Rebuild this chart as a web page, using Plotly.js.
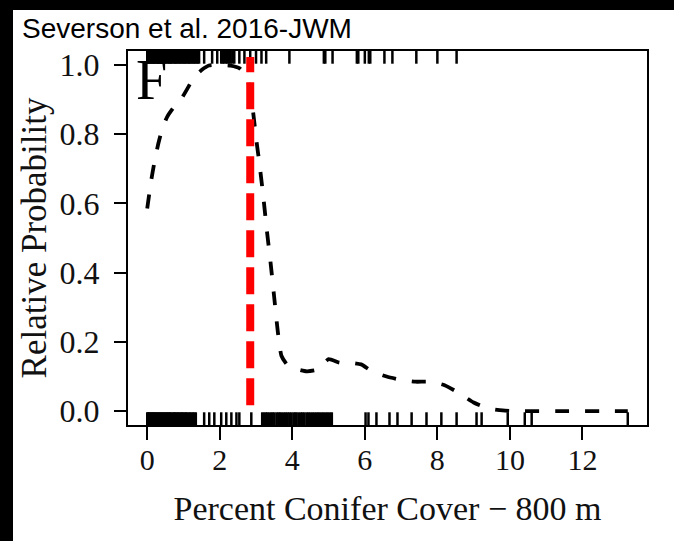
<!DOCTYPE html>
<html>
<head>
<meta charset="utf-8">
<script src="https://cdn.plot.ly/plotly-3.0.1.min.js"></script>
<style>
  html, body { margin:0; padding:0; background:#fff; width:674px; height:541px; overflow:hidden; }
  #chart { position:absolute; left:13px; top:10px; width:661px; height:531px; background:#fff; }
  #barTop { position:absolute; left:0; top:0; width:674px; height:10px; background:#000; }
  #barLeft { position:absolute; left:0; top:0; width:13px; height:541px; background:#000; }
</style>
</head>
<body>
<div id="chart"></div>
<div id="barTop"></div>
<div id="barLeft"></div>
<script>
// Fitted relative probability curve (percent conifer cover, 800 m)
const curveX = [0, 0.1, 0.2, 0.3, 0.4, 0.55, 0.75, 0.9, 1.1, 1.3, 1.5, 1.7, 2.0, 2.3, 2.55, 2.75, 2.9, 3.0, 3.1, 3.2, 3.3, 3.4, 3.5, 3.6, 3.7, 3.85, 4.0, 4.4, 4.7, 5.0, 5.3, 5.6, 5.9, 6.2, 6.6, 7.0, 7.4, 7.8, 8.2, 8.6, 9.0, 9.4, 9.8, 10.2, 10.8, 11.4, 12.0, 12.6, 13.25];
const curveY = [0.585, 0.66, 0.72, 0.77, 0.81, 0.85, 0.88, 0.895, 0.93, 0.965, 0.985, 0.998, 1.0, 0.998, 0.99, 0.965, 0.88, 0.79, 0.71, 0.62, 0.52, 0.43, 0.33, 0.23, 0.16, 0.135, 0.125, 0.115, 0.12, 0.15, 0.14, 0.14, 0.135, 0.115, 0.1, 0.09, 0.085, 0.085, 0.075, 0.052, 0.025, 0.008, 0.002, 0.0, 0.0, 0.0, 0.0, 0.0, 0.0];

// Observed locations: used sites (rug at top) and available sites (rug at bottom)
const usedX = [0.00, 0.03, 0.05, 0.08, 0.11, 0.14, 0.17, 0.19, 0.22, 0.26, 0.29, 0.31, 0.35, 0.38, 0.41, 0.44, 0.47, 0.50, 0.53, 0.57, 0.60, 0.63, 0.66, 0.69, 0.73, 0.76, 0.79, 0.82, 0.86, 0.89, 0.92, 0.95, 0.99, 1.02, 1.05, 1.08, 1.12, 1.15, 1.18, 1.22, 1.25, 1.29, 1.32, 1.36, 1.39, 1.43,
  1.57, 1.79, 1.93, 2.04, 2.08, 2.12, 2.17, 2.21, 2.26, 2.30, 2.35, 2.40, 2.54, 2.68, 2.84, 3.00, 3.15, 3.28, 3.92, 4.87, 4.91, 5.11, 5.78, 5.82, 6.00, 6.11, 6.15, 6.54, 6.76, 7.42, 8.00, 8.53];
const availX = [0.00, 0.02, 0.05, 0.07, 0.10, 0.13, 0.16, 0.18, 0.21, 0.24, 0.27, 0.30, 0.33, 0.36, 0.39, 0.42, 0.45, 0.48, 0.51, 0.54, 0.57, 0.60, 0.63, 0.66, 0.70, 0.73, 0.76, 0.79, 0.83, 0.86, 0.89, 0.93, 0.96, 0.99, 1.03, 1.06, 1.10, 1.14, 1.18, 1.22, 1.26, 1.30, 1.34,
  1.57, 1.71, 1.85, 2.04, 2.18, 2.32, 2.46, 2.54, 2.87,
  3.17, 3.22, 3.27, 3.31, 3.36, 3.42, 3.46, 3.51, 3.57, 3.62, 3.66, 3.71, 3.77, 3.82, 3.87, 3.92, 3.97, 4.03, 4.08, 4.12, 4.18, 4.24, 4.28, 4.33, 4.39, 4.44, 4.49, 4.55, 4.60, 4.66, 4.71, 4.76, 4.82, 4.87, 4.93, 4.98, 5.04, 5.09,
  6.02, 6.10, 6.32, 6.68, 6.90, 7.29, 7.70, 8.11, 8.53, 9.08, 9.22, 9.94, 10.41, 10.60, 13.25];

// Threshold marked by the red dashed line
const thresholdX = 2.84;

const xTicks = [0, 2, 4, 6, 8, 10, 12];
const yTicks = [0.0, 0.2, 0.4, 0.6, 0.8, 1.0];
const yTickText = ['0.0', '0.2', '0.4', '0.6', '0.8', '1.0'];

const shapes = [];
usedX.forEach(v => shapes.push({type:'line', xref:'x', yref:'paper', x0:v, x1:v, y0:1, y1:0.966,
  line:{color:'#000', width:2.5}}));
availX.forEach(v => shapes.push({type:'line', xref:'x', yref:'paper', x0:v, x1:v, y0:0, y1:0.034,
  line:{color:'#000', width:2.5}}));
shapes.push({type:'line', xref:'x', yref:'paper', x0:thresholdX, x1:thresholdX, y0:0.053, y1:0.984,
  line:{color:'#ff0000', width:8, dash:'27px,10px'}});

const traces = [{
  x: curveX, y: curveY, type:'scatter', mode:'lines',
  line:{color:'#000', width:3.8, dash:'14px,16px', shape:'spline', smoothing:0.5},
  hoverinfo:'skip', showlegend:false
}];

const serif = '"Liberation Serif", "Times New Roman", serif';
const layout = {
  width:661, height:531,
  margin:{l:115, r:27, t:41, b:116},
  paper_bgcolor:'#fff', plot_bgcolor:'#fff',
  showlegend:false,
  title:{text:'Severson et al. 2016-JWM', x:9/661, xanchor:'left', xref:'container',
    y:1-18/531, yanchor:'middle', yref:'container',
    font:{family:'"Liberation Sans", Arial, sans-serif', size:28, color:'#000'}},
  xaxis:{range:[-0.53, 13.78], tickvals:xTicks, ticktext:xTicks.map(String),
    ticks:'outside', ticklen:13, tickwidth:2, tickcolor:'#000',
    showline:true, linecolor:'#000', linewidth:2, mirror:true,
    showgrid:false, zeroline:false, ticklabelstandoff:-6,
    tickfont:{family:serif, size:30, color:'#111'},
    title:{text:'Percent Conifer Cover \u2212 800 m', standoff:21, font:{family:serif, size:34, color:'#111'}}},
  yaxis:{range:[-0.04, 1.04], tickvals:yTicks, ticktext:yTickText,
    ticks:'outside', ticklen:12, tickwidth:2, tickcolor:'#000',
    showline:true, linecolor:'#000', linewidth:2, mirror:true,
    showgrid:false, zeroline:false, ticklabelstandoff:8,
    tickfont:{family:serif, size:32, color:'#111'},
    title:{text:'Relative Probability', standoff:2, font:{family:serif, size:35, color:'#111'}}},
  shapes: shapes,
  annotations:[{text:'F', xref:'paper', yref:'paper', x:0.012, y:1.012, xanchor:'left', yanchor:'top',
    showarrow:false, font:{family:serif, size:56, color:'#000'}}]
};

Plotly.newPlot('chart', traces, layout, {displayModeBar:false, staticPlot:true});
</script>
</body>
</html>
